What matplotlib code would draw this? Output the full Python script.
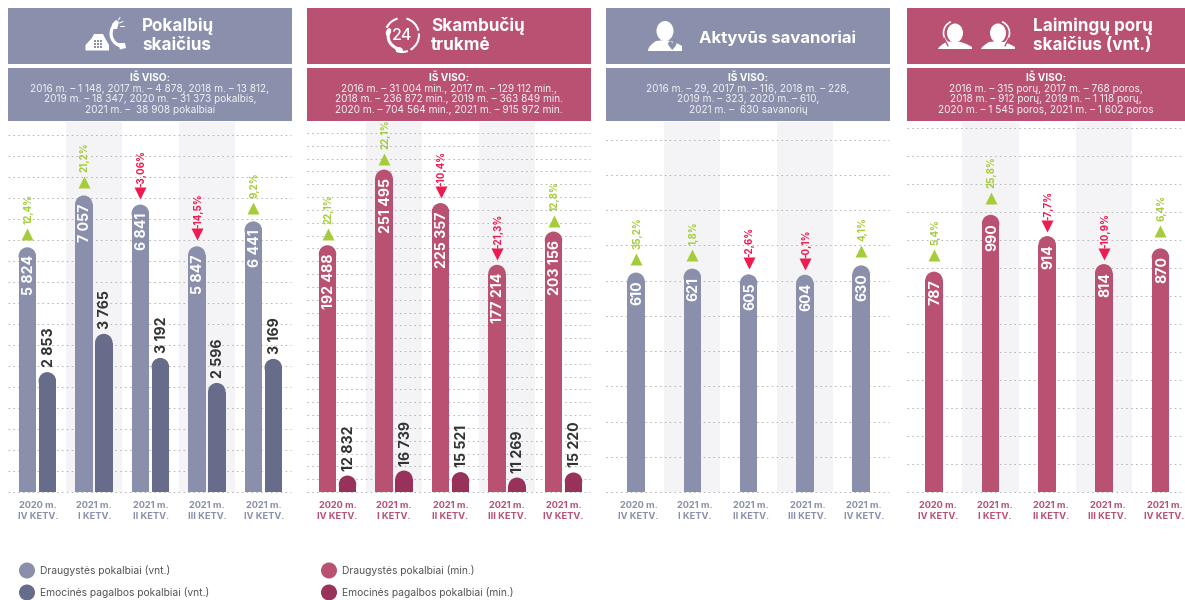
import numpy as np
import matplotlib
matplotlib.use("Agg")
import matplotlib.pyplot as plt
from matplotlib.patches import Rectangle, Ellipse, Polygon, PathPatch, Arc
from matplotlib.path import Path
from matplotlib.transforms import offset_copy

plt.rcParams['font.family'] = ['Inter', 'DejaVu Sans']

# ---------- data ----------
quarters = ["2020 m.\nIV KETV.", "2021 m.\nI KETV.", "2021 m.\nII KETV.", "2021 m.\nIII KETV.", "2021 m.\nIV KETV."]

calls_friend = [5824, 7057, 6841, 5847, 6441]
calls_emotion = [2853, 3765, 3192, 2596, 3169]
calls_pct = ["12,4%", "21,2%", "-3,06%", "-14,5%", "9,2%"]

mins_friend = [192488, 251495, 225357, 177214, 203156]
mins_emotion = [12832, 16739, 15521, 11269, 15220]
mins_pct = ["22,1%", "22,1%", "-10,4%", "-21,3%", "12,8%"]

volunteers = [610, 621, 605, 604, 630]
volunteers_pct = ["35,2%", "1,8%", "-2,6%", "-0,1%", "4,1%"]

couples = [787, 990, 914, 814, 870]
couples_pct = ["5,4%", "25,8%", "-7,7%", "-10,9%", "6,4%"]

titles = [["Pokalbių", "skaičius"], ["Skambučių", "trukmė"], ["Aktyvūs savanoriai"], ["Laimingų porų", "skaičius (vnt.)"]]
totals = [
    ["2016 m. – 1 148, 2017 m. – 4 878, 2018 m. – 13 812,", "2019 m. – 18 347, 2020 m. – 31 373 pokalbis,", "2021 m. –  38 908 pokalbiai"],
    ["2016 m. – 31 004 min., 2017 m. – 129 112 min.,", "2018 m. – 236 872 min., 2019 m. – 363 849 min.", "2020 m. – 704 564 min., 2021 m. – 915 972 min."],
    ["2016 m. – 29, 2017 m. – 116, 2018 m. – 228,", "2019 m. – 323, 2020 m. – 610,", "2021 m. –  630 savanorių"],
    ["2016 m. – 315 porų, 2017 m. – 768 poros,", "2018 m. – 912 porų, 2019 m. – 1 118 porų,", "2020 m. – 1 545 poros, 2021 m. – 1 602 poros"],
]
legend_left = ["Draugystės pokalbiai (vnt.)", "Emocinės pagalbos pokalbiai (vnt.)"]
legend_right = ["Draugystės pokalbiai (min.)", "Emocinės pagalbos pokalbiai (min.)"]

# ---------- styling ----------
W, H = 1185, 600
BLUE, BLUE_D = "#8a90ab", "#676c8b"
ROSE, ROSE_D = "#b95172", "#98325a"
GREEN, RED = "#a5cd39", "#ee1b4f"
BAND = "#f4f4f7"
BASE_Y, TOP_Y = 492, 122
BW = 17.5

panels = [
    dict(box=(8, 292), c0=37.3, step=56.5, per_px=23.8, tick=500, nticks=17, col=BLUE, col2=BLUE_D,
         s1=calls_friend, s2=calls_emotion, pct=calls_pct, up=13, down=12, title_x=142, tick_dx=0.5),
    dict(box=(307, 590.5), c0=337.5, step=56.5, per_px=780, tick=10000, nticks=28, col=ROSE, col2=ROSE_D,
         s1=mins_friend, s2=mins_emotion, pct=mins_pct, up=11, down=11, title_x=431, tick_dx=0),
    dict(box=(606, 890), c0=636, step=56.3, per_px=2.78, tick=97.9, nticks=10, col=BLUE, col2=None,
         s1=volunteers, s2=None, pct=volunteers_pct, up=14, down=11, title_x=699, tick_dx=2.5),
    dict(box=(907, 1185), c0=934, step=56.6, per_px=100 / 28, tick=100, nticks=13, col=ROSE, col2=None,
         s1=couples, s2=None, pct=couples_pct, up=17, down=10, title_x=1033, tick_dx=4),
]

fig = plt.figure(figsize=(W / 100, H / 100), dpi=100, facecolor="white")
bg = fig.add_axes([0, 0, 1, 1], zorder=0)
bg.set_xlim(0, W)
bg.set_ylim(H, 0)
bg.axis("off")


def rounded_bar(ax, x, v, w, color, per_px, w_px):
    ry = w_px / 2 * per_px
    ax.bar(x, max(v - ry, 0), width=w, color=color, zorder=3, linewidth=0)
    ax.add_patch(Ellipse((x, v - ry), w, 2 * ry, facecolor=color, edgecolor="none", zorder=3))


def fmt(v):
    return f"{v:,}".replace(",", " ")


for p, title, total in zip(panels, titles, totals):
    l, r = p["box"]
    col = p["col"]
    bg.add_patch(Rectangle((l, 8), r - l, 56, facecolor=col, edgecolor="none"))
    bg.add_patch(Rectangle((l, 68), r - l, 53, facecolor=col, edgecolor="none"))
    if len(title) == 2:
        bg.text(p["title_x"], 26, title[0], color="white", fontsize=12.3, fontweight="bold", va="center")
        bg.text(p["title_x"], 46, title[1], color="white", fontsize=12.3, fontweight="bold", va="center")
    else:
        bg.text(p["title_x"], 38, title[0], color="white", fontsize=12.1, fontweight="bold", va="center")
    mid = (l + r) / 2
    bg.text(mid, 78, "IŠ VISO:", color="white", fontsize=7.3, fontweight="bold", ha="center", va="center")
    for yy, line in zip((88.5, 99.5, 110), total):
        bg.text(mid, yy, line, color="#f1f1f5", fontsize=7.25, ha="center", va="center")

    gl, gr = l, r - 1
    ax = fig.add_axes([gl / W, 1 - BASE_Y / H, (gr - gl) / W, (BASE_Y - TOP_Y) / H], zorder=2)
    ax.patch.set_alpha(0)
    ax.set_xlim((gl - p["c0"]) / p["step"], (gr - p["c0"]) / p["step"])
    ax.set_ylim(0, (BASE_Y - TOP_Y) * p["per_px"])
    for s in ax.spines.values():
        s.set_visible(False)
    ax.set_yticks(np.arange(p["nticks"] + 1) * p["tick"])
    ax.tick_params(axis="y", length=0, labelleft=False)
    ax.grid(axis="y", color="#b4b4b4", lw=0.7, ls=(0, (1.6, 3.4)), zorder=1)
    ax.set_axisbelow(True)
    for g in ax.get_ygridlines():
        g.set_clip_on(False)
    for i in (1, 3):
        ax.axvspan(i - 0.497, i + 0.497, color=BAND, lw=0, zorder=0)
    ax.set_xticks(np.arange(5) + p["tick_dx"] / p["step"])
    ax.set_xticklabels(quarters, fontsize=6.7, fontweight="bold", color=col, linespacing=1.3)
    ax.tick_params(axis="x", length=0, pad=6.5)

    w = BW / p["step"]
    two = p["s2"] is not None
    dx = 10 / p["step"] if two else 0
    lbl_in = offset_copy(ax.transData, fig=fig, x=1.5, y=-8, units="dots")
    lbl_up = offset_copy(ax.transData, fig=fig, x=1.5, y=5, units="dots")
    for i, v in enumerate(p["s1"]):
        x = i - dx
        rounded_bar(ax, x, v, w, col, p["per_px"], BW)
        ax.text(x, v, fmt(v), transform=lbl_in, rotation=90, ha="center", va="top", color="white",
                fontsize=10.2, fontweight="bold", zorder=5)
        pct = p["pct"][i]
        neg = pct.startswith("-")
        off = p["down"] if neg else p["up"]
        tcol = RED if neg else GREEN
        mk = offset_copy(ax.transData, fig=fig, y=off, units="dots")
        ax.plot([x], [v], marker="v" if neg else "^", ms=8.2, color=tcol, mec="none", transform=mk,
                zorder=5, clip_on=False, ls="none")
        tx = offset_copy(ax.transData, fig=fig, x=1.2, y=off + (6 if neg else 10), units="dots")
        ax.text(x, v, pct, transform=tx, rotation=90, ha="center", va="bottom", color=tcol,
                fontsize=7, fontweight="bold", zorder=6, clip_on=False)
    if two:
        for i, v in enumerate(p["s2"]):
            x = i + dx
            rounded_bar(ax, x, v, w, p["col2"], p["per_px"], BW)
            ax.text(x, v, fmt(v), transform=lbl_up, rotation=90, ha="center", va="bottom", color="#333333",
                    fontsize=10.2, fontweight="bold", zorder=5)

# ---------- legends ----------
for cx, tx_, names, cols in ((27, 40, legend_left, (BLUE, BLUE_D)), (329, 342, legend_right, (ROSE, ROSE_D))):
    for yy, name, c in zip((570.5, 592.5), names, cols):
        bg.add_patch(Ellipse((cx, yy), 16, 16, facecolor=c, edgecolor="none"))
        bg.text(tx_, yy, name, fontsize=7.45, color="#555555", va="center")


# ---------- icons ----------
def stroke(verts, lw=2.5, color="white", codes=None):
    bg.add_patch(PathPatch(Path(verts, codes), facecolor="none", edgecolor=color, lw=lw,
                           capstyle="round", joinstyle="round"))


C3 = [Path.MOVETO, Path.CURVE3, Path.CURVE3]
C4 = [Path.MOVETO, Path.CURVE4, Path.CURVE4, Path.CURVE4]

# desk phone + handset
bg.add_patch(Polygon([(85.5, 50.5), (85.5, 45), (92, 38), (94, 34), (103, 34), (105, 38), (109, 45), (109, 50.5)],
                     closed=True, facecolor="white", edgecolor="none"))
for dy in (40, 43, 46):
    for dx_ in (94, 97, 100):
        bg.add_patch(Rectangle((dx_, dy), 1.6, 1.6, facecolor=BLUE, edgecolor="none"))
stroke([(115, 24), (107, 33), (112, 45), (123, 46.5)], lw=2.3, codes=C4)
bg.add_patch(Polygon([(112, 24), (116, 20), (119, 22), (117, 29), (114, 29)], closed=True, facecolor="white", edgecolor="none"))
bg.add_patch(Polygon([(118, 43), (125, 43), (126, 48), (120, 49.5)], closed=True, facecolor="white", edgecolor="none"))
for a, b in (((119.5, 23), (123, 21.5)), ((120, 26), (123.5, 26)), ((118.5, 20), (120, 17.5))):
    stroke([a, b], lw=0.7)

# 24h dial
for t1, t2 in ((-75, -15), (-5, 60), (70, 110), (205, 255)):
    bg.add_patch(Arc((402, 35), 34, 34, theta1=t1, theta2=t2, color="white", lw=1.5))
bg.text(402.5, 35, "24", color="white", fontsize=11.5, ha="center", va="center", fontweight="medium")
stroke([(389, 31), (385, 44), (400, 50)], lw=2.2, codes=C3)
bg.add_patch(Ellipse((388.5, 32), 5, 8, angle=20, facecolor="white", edgecolor="none"))
bg.add_patch(Ellipse((399, 49.5), 8, 5, angle=15, facecolor="white", edgecolor="none"))


# people
def person(cx, heady, y0, y1, halfw, head_w=17, head_h=20):
    bg.add_patch(Ellipse((cx, heady), head_w, head_h, facecolor="white", edgecolor="none"))
    verts = [(cx - halfw, y1), (cx - halfw, y0 + 6), (cx - 9, y0 + 1), (cx, y0), (cx + 9, y0 + 1), (cx + halfw, y0 + 6),
             (cx + halfw, y1), (cx - halfw, y1)]
    codes = [Path.MOVETO, Path.CURVE3, Path.CURVE3, Path.LINETO, Path.CURVE3, Path.CURVE3, Path.LINETO, Path.CLOSEPOLY]
    bg.add_patch(PathPatch(Path(verts, codes), facecolor="white", edgecolor="none"))


person(665, 31, 40, 51, 17)
bg.text(672, 46, "♥", color=BLUE, fontsize=8.5, ha="center", va="center", family="DejaVu Sans")

for cx, side in ((955, -1), (998, 1)):
    person(cx, 33, 41, 49, 17, head_w=16, head_h=19)
    t1, t2 = (110, 250) if side < 0 else (-70, 70)
    bg.add_patch(Arc((cx, 33), 23, 24, theta1=t1, theta2=t2, color="white", lw=1.2))
    stroke([(cx + side * 11, 38), (cx + side * 7, 46)], lw=1.0, color=ROSE)

fig.savefig("out.png", dpi=100, facecolor="white")
